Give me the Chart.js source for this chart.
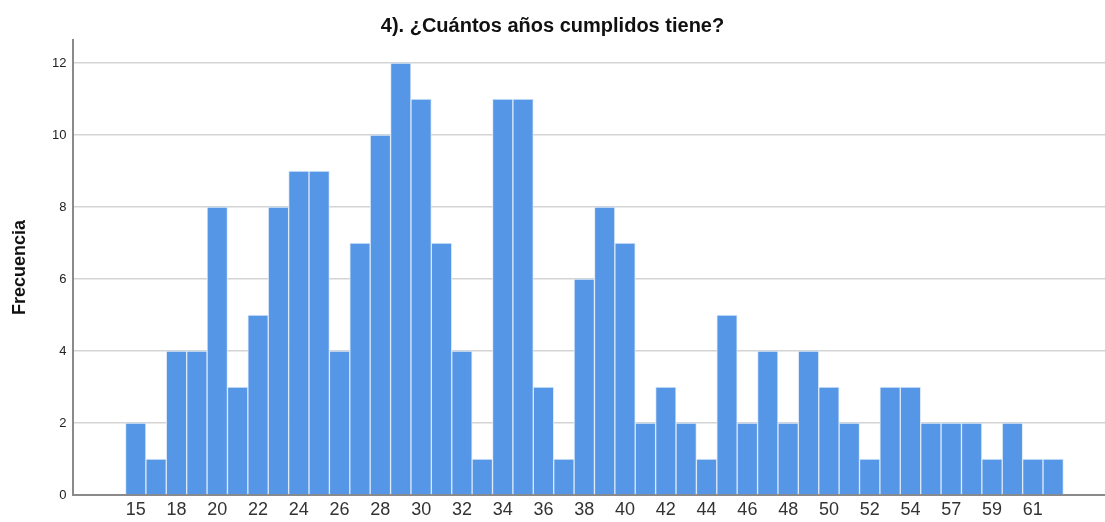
<!DOCTYPE html>
<html>
<head>
<meta charset="utf-8">
<script src="https://cdn.jsdelivr.net/npm/chart.js@4"></script>
<style>
  html, body { margin: 0; padding: 0; background: #fff; }
  #wrap { width: 1105px; height: 522px; }
</style>
</head>
<body>
<div id="wrap"><canvas id="ageChart" width="1105" height="522"></canvas></div>
<script>
const titleText = "4). ¿Cuántos años cumplidos tiene?";
const yTitle = "Frecuencia";

// ---------- DATA ----------
const ages = [15, 17, 18, 19, 20, 21, 22, 23, 24, 25, 26, 27, 28, 29, 30, 31, 32, 33, 34, 35,
  36, 37, 38, 39, 40, 41, 42, 43, 44, 45, 46, 47, 48, 49, 50, 51, 52, 53, 54, 56,
  57, 58, 59, 60, 61, 62];
const freq = [2, 1, 4, 4, 8, 3, 5, 8, 9, 9, 4, 7, 10, 12, 11, 7, 4, 1, 11, 11,
  3, 1, 6, 8, 7, 2, 3, 2, 1, 5, 2, 4, 2, 4, 3, 2, 1, 3, 3, 2,
  2, 2, 1, 2, 1, 1];
const yTicks = [0, 2, 4, 6, 8, 10, 12];
// every other age gets a label
const xTickIdx = ages.map((a, i) => i).filter(i => i % 2 === 0);

const points = freq.map((v, i) => ({ x: i, y: v }));

new Chart(document.getElementById("ageChart"), {
  type: "bar",
  data: {
    datasets: [{
      data: points,
      backgroundColor: "#5596e6",
      borderColor: "#dde9f8",
      borderWidth: 1,
      borderSkipped: "bottom",
      barPercentage: 1,
      categoryPercentage: 1
    }]
  },
  options: {
    responsive: false,
    animation: false,
    layout: { padding: { left: 0, right: 0, top: 0, bottom: 0 } },
    plugins: {
      legend: { display: false },
      tooltip: { enabled: false },
      title: {
        display: true,
        text: titleText,
        color: "#111",
        font: { family: "Liberation Sans, Arial", size: 20, weight: "bold" },
        padding: { top: 14, bottom: 2 }
      }
    },
    scales: {
      x: {
        type: "linear",
        offset: false,
        min: -3.1,
        max: 47.54,
        afterBuildTicks: s => { s.ticks = xTickIdx.map(v => ({ value: v })); },
        afterFit: s => { s.height = 27; },
        grid: { display: false, drawTicks: false },
        border: { display: true, color: "#8a8a8a", width: 2 },
        ticks: {
          autoSkip: false,
          maxRotation: 0,
          padding: 4,
          color: "#333",
          font: { family: "Liberation Sans, Arial", size: 18 },
          callback: v => ages[v]
        }
      },
      y: {
        min: 0,
        max: 12.64,
        afterBuildTicks: s => { s.ticks = yTicks.map(v => ({ value: v })); },
        afterFit: s => { s.width = 72.5; },
        grid: { color: "#d4d4d4", lineWidth: 1.5, drawTicks: false },
        border: { display: true, color: "#8a8a8a", width: 2 },
        ticks: {
          padding: 6,
          color: "#222",
          font: { family: "Liberation Sans, Arial", size: 13 }
        },
        title: {
          display: true,
          text: yTitle,
          color: "#111",
          font: { family: "Liberation Sans, Arial", size: 18, weight: "bold" },
          padding: { top: 9, bottom: 0 }
        }
      }
    }
  }
});
</script>
</body>
</html>
